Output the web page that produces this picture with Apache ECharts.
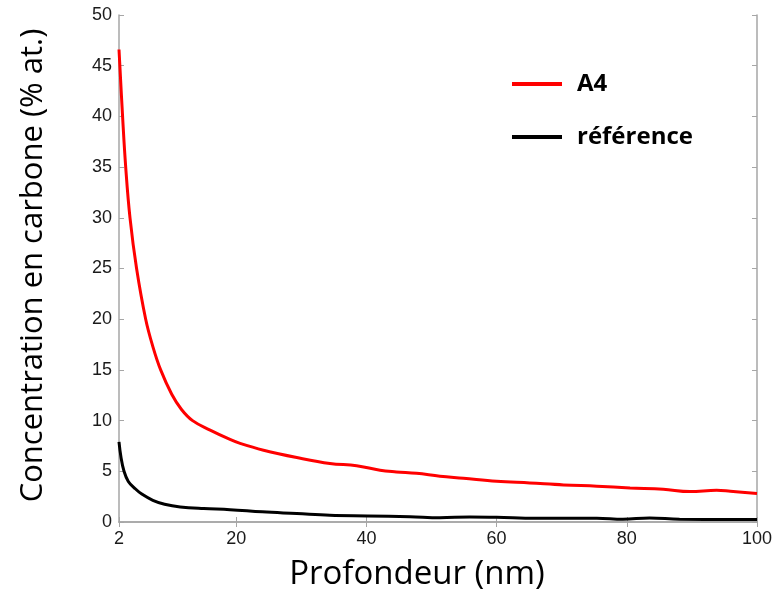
<!DOCTYPE html>
<html><head><meta charset="utf-8">
<script src="https://cdn.jsdelivr.net/npm/echarts@6/dist/echarts.min.js"></script>
<style>html,body{margin:0;padding:0;background:#fff}#c{width:776px;height:592px}</style>
</head><body><div id="c"></div>
<script>
const redX = [2, 2.55, 3.03, 3.69, 4.7, 6.1, 7.2, 8.4, 10.1, 11.6, 13.3, 16, 19.05, 20.6, 24.2, 29.3, 34.4, 38.5, 42.1, 44.6, 47.7, 51.3, 54.9, 60, 65.1, 70.3, 75.4, 80.5, 85.6, 89.7, 93.8, 95.9, 100];
const redY = [46.6, 40, 35, 30, 25, 20, 17.3, 15, 12.6, 11.1, 10, 9.06, 8.14, 7.75, 7.08, 6.36, 5.77, 5.55, 5.1, 4.94, 4.8, 4.52, 4.32, 4.02, 3.85, 3.66, 3.53, 3.36, 3.23, 3.0, 3.13, 3.03, 2.8];
const blackX = [2, 2.3, 2.77, 3.43, 4.46, 5.5, 7.2, 9, 11.4, 15, 19.05, 24, 29.3, 34.4, 40.2, 46.7, 51.3, 55.9, 60, 66, 75.4, 79.4, 83.5, 88.1, 100];
const blackY = [7.9, 6.4, 5, 4.0, 3.3, 2.75, 2.14, 1.75, 1.48, 1.32, 1.22, 1.0, 0.83, 0.66, 0.6, 0.53, 0.43, 0.5, 0.47, 0.37, 0.37, 0.27, 0.4, 0.27, 0.24];
const xTickLabels = [2, 20, 40, 60, 80, 100];
const seriesNames = ['A4', 'référence'];

const chart = echarts.init(document.getElementById('c'), null, {renderer: 'canvas'});
const frame = '#a6a6a6';
const lbl = {color: '#1a1a1a', fontFamily: 'Liberation Sans, Arial', fontSize: 18};
const pair = (xs, ys) => xs.map((x, i) => [x, ys[i]]);
chart.setOption({
  animation: false,
  grid: {left: 119, right: 19, top: 15, bottom: 70, containLabel: false, outerBoundsMode: 'none'},
  legend: {
    orient: 'vertical', left: 512, top: 72, padding: 0,
    itemWidth: 50, itemHeight: 4, itemGap: 29,
    icon: 'rect',
    textStyle: {fontFamily: 'Open Sans', fontWeight: 'bold', fontSize: 24, color: '#000', padding: [0, 0, 0, 10]},
    data: seriesNames
  },
  xAxis: [{
    type: 'value', min: 2, max: 100,
    name: 'Profondeur (nm)', nameLocation: 'middle', nameGap: 36,
    nameTextStyle: {fontFamily: 'Open Sans', fontSize: 33, color: '#000', padding: [0, 42, 0, 0]},
    axisLine: {lineStyle: {color: frame, width: 1.5}},
    axisTick: {inside: true, length: 5, customValues: xTickLabels, lineStyle: {color: frame}},
    axisLabel: Object.assign({customValues: xTickLabels, margin: 8, showMinLabel: true, showMaxLabel: true}, lbl),
    splitLine: {show: false}
  }, {
    type: 'value', min: 2, max: 100, position: 'top',
    axisLine: {show: true, lineStyle: {color: frame, width: 1.5}},
    axisTick: {inside: true, length: 5, customValues: xTickLabels, lineStyle: {color: frame}},
    axisLabel: {show: false}, splitLine: {show: false}
  }],
  yAxis: [{
    type: 'value', min: 0, max: 50, interval: 5,
    name: 'Concentration en carbone (% at.)', nameLocation: 'middle', nameGap: 70,
    nameTextStyle: {fontFamily: 'Open Sans', fontSize: 31, color: '#000', padding: [0, 0, 0, 6]},
    axisLine: {show: true, lineStyle: {color: frame, width: 1.5}},
    axisTick: {inside: true, length: 5, lineStyle: {color: frame}},
    axisLabel: Object.assign({margin: 7}, lbl),
    splitLine: {show: false}
  }, {
    type: 'value', min: 0, max: 50, interval: 5, position: 'right',
    axisLine: {show: true, lineStyle: {color: frame, width: 1.5}},
    axisTick: {inside: true, length: 5, lineStyle: {color: frame}},
    axisLabel: {show: false}, splitLine: {show: false}
  }],
  series: [{
    name: seriesNames[0], type: 'line', data: pair(redX, redY), smooth: 0.4,
    showSymbol: false, symbol: 'none', color: '#ff0000', lineStyle: {width: 3, color: '#ff0000'}
  }, {
    name: seriesNames[1], type: 'line', data: pair(blackX, blackY), smooth: 0.4,
    showSymbol: false, symbol: 'none', color: '#000000', lineStyle: {width: 3, color: '#000000'}
  }]
});
</script></body></html>
